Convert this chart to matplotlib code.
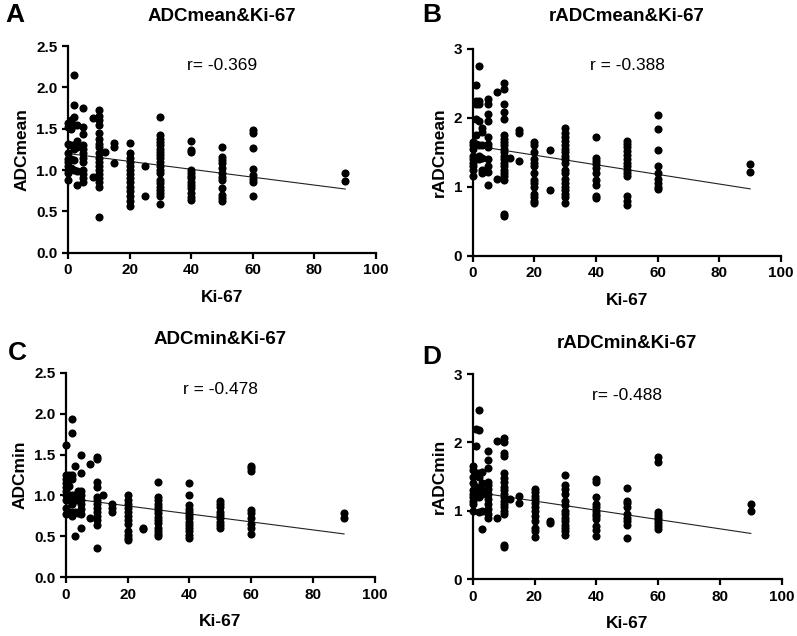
import numpy as np
import matplotlib
matplotlib.use("Agg")
import matplotlib.pyplot as plt

plt.rcParams['font.family'] = ['Liberation Sans', 'DejaVu Sans']

# --- data: {Ki-67: [values]} for each panel ---
adc_mean = {
    0: [1.13, 1.57, 1.52, 1.32, 1.20, 1.10, 1.05, 1.00, 0.97, 0.88],
    1: [1.60, 1.50, 1.30, 1.13, 1.02],
    2: [2.15, 1.79, 1.64, 1.55, 1.30, 1.25, 1.12, 1.00],
    3: [1.55, 1.35, 1.28, 0.99, 0.82],
    5: [1.75, 1.52, 1.43, 1.30, 1.25, 1.20, 1.15, 1.10, 1.00, 0.95, 0.90, 0.85],
    8: [1.63, 0.91],
    10: [1.73, 1.65, 1.60, 1.55, 1.45, 1.37, 1.32, 1.28, 1.20, 1.15, 1.10,
         1.05, 1.00, 0.95, 0.90, 0.85, 0.80, 0.43],
    12: [1.22],
    15: [1.33, 1.28, 1.08],
    20: [1.33, 1.20, 1.15, 1.10, 1.05, 1.00, 0.95, 0.90, 0.85, 0.80, 0.75,
         0.68, 0.62, 0.57],
    25: [1.05, 0.69],
    30: [1.64, 1.42, 1.38, 1.34, 1.30, 1.26, 1.22, 1.18, 1.14, 1.10, 1.05,
         1.00, 0.97, 0.88, 0.84, 0.80, 0.76, 0.72, 0.68, 0.59],
    40: [1.35, 1.24, 1.22, 1.00, 0.97, 0.93, 0.90, 0.86, 0.82, 0.78, 0.72,
         0.67, 0.64],
    50: [1.28, 1.16, 1.12, 1.08, 1.03, 0.97, 0.92, 0.88, 0.78, 0.70, 0.66, 0.63],
    60: [1.48, 1.45, 1.27, 1.01, 0.94, 0.89, 0.86, 0.69],
    90: [0.96, 0.87],
}

radc_mean = {
    0: [1.65, 1.60, 1.55, 1.45, 1.40, 1.35, 1.30, 1.25, 1.15],
    1: [2.48, 2.25, 2.20, 1.98, 1.75, 1.62, 1.42],
    2: [2.75, 2.25, 2.20, 1.95, 1.60, 1.45, 1.40],
    3: [1.85, 1.80, 1.60, 1.42, 1.25, 1.20],
    5: [2.28, 2.20, 2.05, 1.95, 1.72, 1.62, 1.58, 1.40, 1.30, 1.22, 1.02],
    8: [2.38, 1.12],
    10: [2.50, 2.42, 2.20, 2.08, 1.98, 1.75, 1.70, 1.65, 1.60, 1.55, 1.50,
         1.45, 1.40, 1.35, 1.30, 1.25, 1.20, 1.15, 1.10, 0.60, 0.58],
    12: [1.42],
    15: [1.82, 1.78, 1.38],
    20: [1.65, 1.60, 1.50, 1.40, 1.35, 1.30, 1.20, 1.10, 1.05, 1.00, 0.90,
         0.85, 0.80, 0.76],
    25: [1.53, 0.95],
    30: [1.86, 1.78, 1.72, 1.66, 1.60, 1.55, 1.50, 1.45, 1.40, 1.35, 1.25,
         1.20, 1.12, 1.05, 1.00, 0.95, 0.90, 0.85, 0.77],
    40: [1.72, 1.42, 1.38, 1.33, 1.28, 1.20, 1.10, 1.03, 0.86, 0.84],
    50: [1.66, 1.62, 1.58, 1.52, 1.46, 1.40, 1.35, 1.30, 1.25, 1.20, 1.16,
         0.86, 0.80, 0.74],
    60: [2.04, 1.84, 1.53, 1.30, 1.20, 1.12, 1.05, 1.00, 0.97],
    90: [1.33, 1.21],
}

adc_min = {
    0: [1.62, 1.25, 1.20, 1.15, 1.10, 1.05, 1.00, 0.95, 0.85, 0.77],
    1: [1.25, 1.12, 0.95, 0.80],
    2: [1.93, 1.76, 1.25, 1.20, 1.00, 0.90, 0.75, 0.80],
    3: [1.36, 1.00, 0.95, 0.80, 0.50],
    4: [1.05, 0.95, 0.78],
    5: [1.49, 1.27, 1.05, 1.00, 0.95, 0.90, 0.83, 0.77, 0.60],
    8: [1.38, 0.72],
    10: [1.47, 1.45, 1.17, 1.10, 0.98, 0.95, 0.90, 0.85, 0.80, 0.75, 0.70,
         0.64, 0.36],
    12: [1.00],
    15: [0.90, 0.85, 0.80],
    20: [1.00, 0.95, 0.90, 0.85, 0.80, 0.75, 0.70, 0.65, 0.57, 0.52, 0.48, 0.45],
    25: [0.60, 0.59],
    30: [1.16, 0.98, 0.94, 0.90, 0.86, 0.82, 0.78, 0.74, 0.70, 0.66, 0.60,
         0.56, 0.53, 0.50],
    40: [1.15, 1.01, 0.88, 0.84, 0.80, 0.76, 0.72, 0.68, 0.64, 0.60, 0.56,
         0.52, 0.48],
    50: [0.93, 0.90, 0.86, 0.80, 0.76, 0.72, 0.68, 0.64, 0.60],
    60: [1.36, 1.33, 1.30, 0.82, 0.78, 0.72, 0.65, 0.60, 0.53],
    90: [0.78, 0.72],
}

radc_min = {
    0: [1.65, 1.60, 1.50, 1.40, 1.30, 1.25, 1.20, 1.15, 1.10, 1.00],
    1: [2.20, 1.95, 1.55, 1.35, 1.22],
    2: [2.47, 2.18, 1.55, 1.50, 1.30, 1.20, 0.98],
    3: [1.57, 1.40, 1.30, 1.25, 1.00, 0.74],
    5: [1.88, 1.74, 1.62, 1.42, 1.38, 1.32, 1.25, 1.18, 1.10, 1.02, 0.95, 0.90],
    8: [2.02, 0.89],
    10: [2.07, 2.00, 1.85, 1.80, 1.56, 1.48, 1.42, 1.35, 1.30, 1.25, 1.20,
         1.15, 1.10, 1.05, 1.00, 0.95, 0.50, 0.47],
    12: [1.18],
    15: [1.22, 1.12],
    20: [1.32, 1.28, 1.22, 1.18, 1.12, 1.05, 1.00, 0.92, 0.85, 0.75, 0.70, 0.62],
    25: [0.85, 0.83],
    30: [1.53, 1.38, 1.32, 1.25, 1.15, 1.08, 1.00, 0.95, 0.90, 0.85, 0.80,
         0.75, 0.70, 0.65],
    40: [1.46, 1.42, 1.20, 1.10, 1.05, 1.00, 0.96, 0.92, 0.88, 0.78, 0.72, 0.63],
    50: [1.33, 1.15, 1.12, 1.05, 0.95, 0.90, 0.85, 0.80, 0.60],
    60: [1.79, 1.72, 0.98, 0.94, 0.90, 0.86, 0.82, 0.78, 0.73],
    90: [1.10, 1.00],
}

# regression lines: (value at Ki-67 = 0, value at Ki-67 = 90)
line_ends = [(1.20, 0.77), (1.60, 0.97), (0.97, 0.53), (1.28, 0.67)]
r_texts = ["r= -0.369", "r = -0.388", "r = -0.478", "r= -0.488"]
titles = ["ADCmean&Ki-67", "rADCmean&Ki-67", "ADCmin&Ki-67", "rADCmin&Ki-67"]
ylabels = ["ADCmean", "rADCmean", "ADCmin", "rADCmin"]
letters = ["A", "B", "C", "D"]
datasets = [adc_mean, radc_mean, adc_min, radc_min]
W, H = 797, 636

# axes boxes in pixels: left, top, right, bottom
boxes = [(68, 46, 376, 252.7), (472.7, 49, 781, 255.7),
         (65.7, 372.7, 375, 577.3), (472.7, 374, 781.7, 579.3)]
ylims = [2.5, 3, 2.5, 3]
ysteps = [0.5, 1, 0.5, 1]
title_pads = [18, 20, 21, 19]
letter_pos = [(15, 15), (432, 15), (17, 353), (432, 357)]
r_pos = [(222, 65), (627, 65), (220, 390), (627, 395)]


def flatten(groups):
    xs, ys = [], []
    for k, vals in groups.items():
        xs += [k] * len(vals)
        ys += vals
    return np.array(xs), np.array(ys)


fig = plt.figure(figsize=(W / 100, H / 100), dpi=100)

for i in range(4):
    l, t, r, b = boxes[i]
    ax = fig.add_axes([l / W, 1 - b / H, (r - l) / W, (b - t) / H])
    x, y = flatten(datasets[i])
    ax.scatter(x, y, s=34, color='black', linewidths=0, clip_on=False, zorder=3)

    y0, y90 = line_ends[i]
    xl = np.array([0, 90])
    ax.plot(xl, [y0, y90], color='#222222', lw=0.8, zorder=2)

    ax.set_xlim(0, 100)
    ax.set_ylim(0, ylims[i])
    ax.set_xticks(np.arange(0, 101, 20))
    ax.set_yticks(np.arange(0, ylims[i] + 0.01, ysteps[i]))
    if ysteps[i] < 1:
        ax.set_yticklabels([f"{v:.1f}" for v in np.arange(0, ylims[i] + 0.01, ysteps[i])])
    for s in ['top', 'right']:
        ax.spines[s].set_visible(False)
    for s in ['left', 'bottom']:
        ax.spines[s].set_linewidth(1.6)
    ax.tick_params(direction='out', length=4.5, width=1.6, labelsize=11, pad=3)
    for lab in ax.get_xticklabels() + ax.get_yticklabels():
        lab.set_fontweight('bold')

    ax.set_xlabel("Ki-67", fontsize=12.5, fontweight='bold', labelpad=9)
    ax.set_ylabel(ylabels[i], fontsize=12.5, fontweight='bold', labelpad=5)
    ax.set_title(titles[i], fontsize=13.5, fontweight='bold', pad=title_pads[i])

    lx, ly = letter_pos[i]
    fig.text(lx / W, 1 - ly / H, letters[i], fontsize=19, fontweight='bold',
             ha='center', va='center')
    rx, ry = r_pos[i]
    fig.text(rx / W, 1 - ry / H, r_texts[i], fontsize=12.5, ha='center', va='center')

fig.savefig("out.png", dpi=100)
